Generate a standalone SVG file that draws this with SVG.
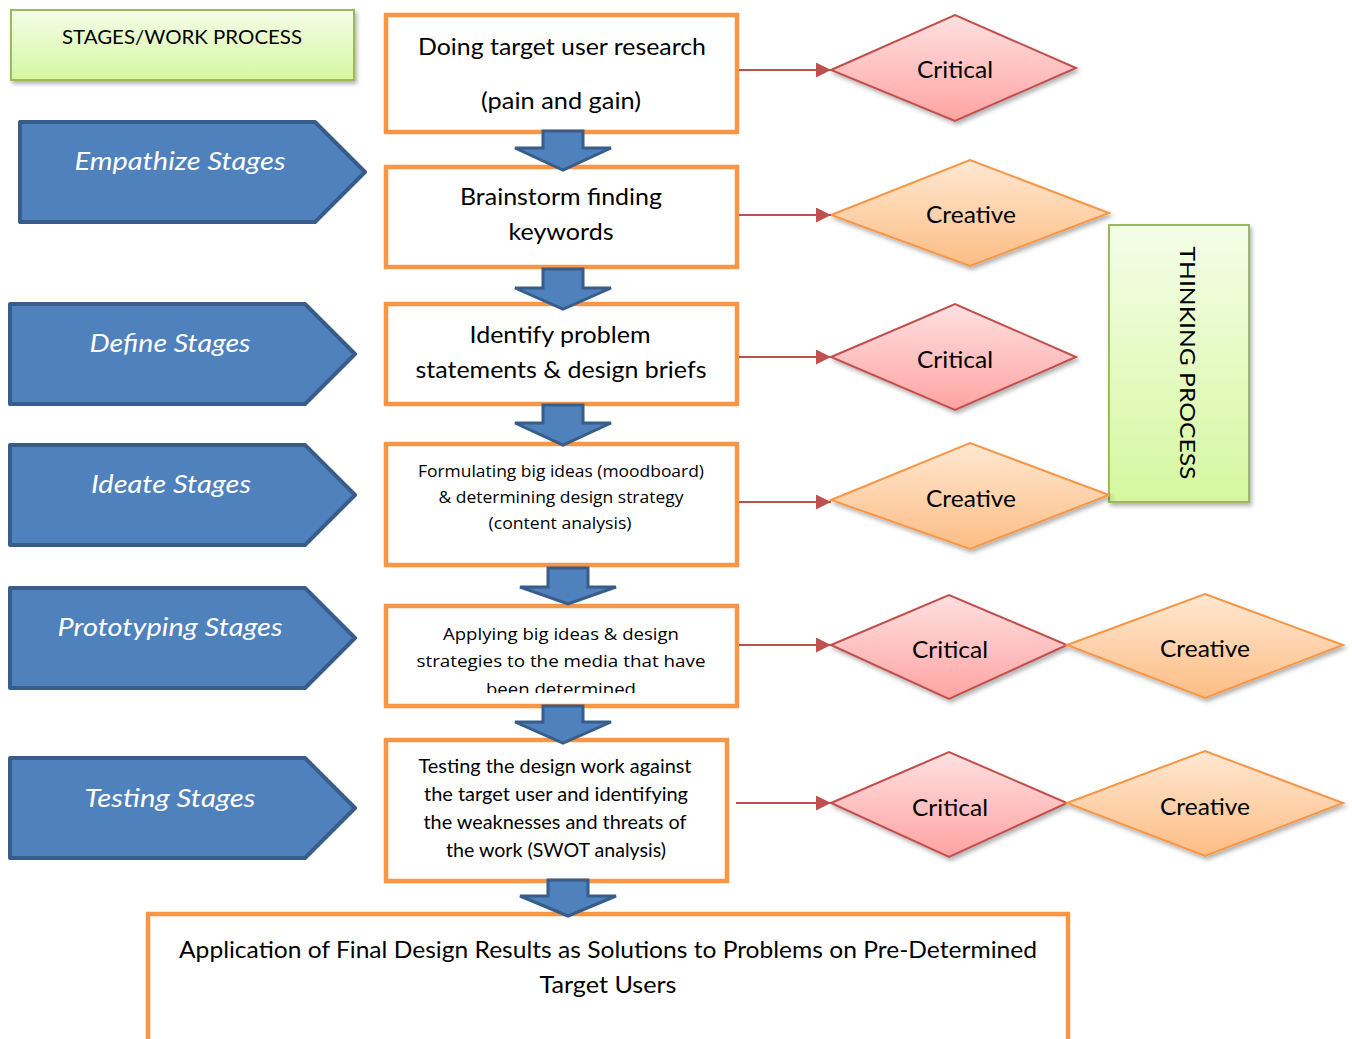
<svg xmlns="http://www.w3.org/2000/svg" width="1352" height="1039" viewBox="0 0 1352 1039">
<style>
  .bg{fill:#ffffff}
  .box{fill:#ffffff;stroke:#f79646;stroke-width:4.5}
  .green{fill:url(#gGreen);stroke:#9bbb59;stroke-width:2;filter:url(#sh)}
  .stage{fill:#4f81bd;stroke:#385d8a;stroke-width:4;stroke-linejoin:round}
  .down{fill:#4f81bd;stroke:#385d8a;stroke-width:3;stroke-linejoin:miter}
  .crit{fill:url(#gRed);stroke:#c0504d;stroke-width:2;filter:url(#sh)}
  .crea{fill:url(#gOrg);stroke:#f79646;stroke-width:2;filter:url(#sh)}
  .conn{stroke:#c0504d;stroke-width:2;fill:none;marker-end:url(#arr)}
  text{font-family:Lato,"Open Sans","Liberation Sans",sans-serif;fill:#000;text-anchor:middle}
  .st{font-style:italic;fill:#ffffff;font-size:26px}
  .t24{font-size:24px}
  .t19{font-size:19px}
  .os{font-family:"Open Sans","Liberation Sans",sans-serif;font-size:17px}
  .t20{font-size:20px}
  .t22{font-size:22px}
</style>
<defs>
  <linearGradient id="gGreen" x1="0" y1="0" x2="0" y2="1">
    <stop offset="0" stop-color="#f4fde8"/>
    <stop offset="1" stop-color="#d6f7a0"/>
  </linearGradient>
  <linearGradient id="gRed" x1="0" y1="0" x2="0" y2="1">
    <stop offset="0" stop-color="#ffe0e0"/>
    <stop offset="1" stop-color="#ffa3a3"/>
  </linearGradient>
  <linearGradient id="gOrg" x1="0" y1="0" x2="0" y2="1">
    <stop offset="0" stop-color="#ffe8d2"/>
    <stop offset="1" stop-color="#fdbd84"/>
  </linearGradient>
  <filter id="sh" x="-10%" y="-10%" width="125%" height="130%">
    <feDropShadow dx="2" dy="3" stdDeviation="2" flood-color="#000" flood-opacity="0.3"/>
  </filter>
  <marker id="arr" markerWidth="16" markerHeight="16" refX="15" refY="7.5" orient="auto" markerUnits="userSpaceOnUse">
    <path d="M0,0 L15,7.5 L0,15 Z" fill="#c0504d"/>
  </marker>
  <clipPath id="clip5"><rect x="388" y="608" width="347" height="85"/></clipPath>
</defs>
<rect class="bg" x="0" y="0" width="1352" height="1039"/>

<g id="header">
  <rect class="green" x="11" y="10" width="343" height="70"/>
  <text class="t20" x="182" y="44" textLength="240" lengthAdjust="spacingAndGlyphs">STAGES/WORK PROCESS</text>
</g>

<g id="stage-empathize">
  <polygon class="stage" points="20,122 315,122 365,172 315,222 20,222"/>
  <text class="st" x="180" y="170" textLength="211" lengthAdjust="spacingAndGlyphs">Empathize Stages</text>
</g>
<g id="stage-define">
  <polygon class="stage" points="10,304 305,304 355,354 305,404 10,404"/>
  <text class="st" x="170" y="352" textLength="161" lengthAdjust="spacingAndGlyphs">Define Stages</text>
</g>
<g id="stage-ideate">
  <polygon class="stage" points="10,445 305,445 355,495 305,545 10,545"/>
  <text class="st" x="171" y="493" textLength="160" lengthAdjust="spacingAndGlyphs">Ideate Stages</text>
</g>
<g id="stage-prototyping">
  <polygon class="stage" points="10,588 305,588 355,638 305,688 10,688"/>
  <text class="st" x="170" y="636" textLength="225" lengthAdjust="spacingAndGlyphs">Prototyping Stages</text>
</g>
<g id="stage-testing">
  <polygon class="stage" points="10,758 305,758 355,808 305,858 10,858"/>
  <text class="st" x="170" y="807" textLength="171" lengthAdjust="spacingAndGlyphs">Testing Stages</text>
</g>

<g id="box-research">
  <rect class="box" x="386" y="15" width="351" height="117"/>
  <text class="t24" x="562" y="55" textLength="288" lengthAdjust="spacingAndGlyphs">Doing target user research</text>
  <text class="t24" x="561" y="109" textLength="160" lengthAdjust="spacingAndGlyphs">(pain and gain)</text>
</g>
<g id="box-brainstorm">
  <rect class="box" x="386" y="167" width="351" height="100"/>
  <text class="t24" x="561" y="205" textLength="202" lengthAdjust="spacingAndGlyphs">Brainstorm finding</text>
  <text class="t24" x="561" y="240" textLength="105" lengthAdjust="spacingAndGlyphs">keywords</text>
</g>
<g id="box-identify">
  <rect class="box" x="386" y="304" width="351" height="100"/>
  <text class="t24" x="560" y="343" textLength="181" lengthAdjust="spacingAndGlyphs">Identify problem</text>
  <text class="t24" x="561" y="378" textLength="291" lengthAdjust="spacingAndGlyphs">statements &amp; design briefs</text>
</g>
<g id="box-formulating">
  <rect class="box" x="386" y="444" width="351" height="121"/>
  <text class="os" x="561" y="477" textLength="286" lengthAdjust="spacingAndGlyphs">Formulating big ideas (moodboard)</text>
  <text class="os" x="561" y="503" textLength="245" lengthAdjust="spacingAndGlyphs">&amp; determining design strategy</text>
  <text class="os" x="560" y="529" textLength="143" lengthAdjust="spacingAndGlyphs">(content analysis)</text>
</g>
<g id="box-applying">
  <rect class="box" x="386" y="606" width="351" height="100"/>
  <g clip-path="url(#clip5)">
    <text class="os" x="561" y="640" textLength="236" lengthAdjust="spacingAndGlyphs">Applying big ideas &amp; design</text>
    <text class="os" x="561" y="667" textLength="289" lengthAdjust="spacingAndGlyphs">strategies to the media that have</text>
    <text class="os" x="561" y="695" textLength="150" lengthAdjust="spacingAndGlyphs">been determined</text>
  </g>
</g>
<g id="box-testing">
  <rect class="box" x="386" y="740" width="341" height="141"/>
  <text class="t19" x="555" y="773" textLength="273" lengthAdjust="spacingAndGlyphs">Testing the design work against</text>
  <text class="t19" x="556" y="801" textLength="264" lengthAdjust="spacingAndGlyphs">the target user and identifying</text>
  <text class="t19" x="555" y="829" textLength="263" lengthAdjust="spacingAndGlyphs">the weaknesses and threats of</text>
  <text class="t19" x="556" y="857" textLength="220" lengthAdjust="spacingAndGlyphs">the work (SWOT analysis)</text>
</g>
<g id="box-application">
  <rect class="box" x="148" y="914" width="920" height="140"/>
  <text class="t24" x="608" y="958" textLength="858" lengthAdjust="spacingAndGlyphs">Application of Final Design Results as Solutions to Problems on Pre-Determined</text>
  <text class="t24" x="608" y="993" textLength="137" lengthAdjust="spacingAndGlyphs">Target Users</text>
</g>

<g id="thinking-process">
  <rect class="green" x="1109" y="225" width="140" height="277"/>
  <text class="t22" transform="translate(1188,363) rotate(90)" x="0" y="8" textLength="233" lengthAdjust="spacingAndGlyphs">THINKING PROCESS</text>
</g>

<g id="d-critical-1">
  <polygon class="crit" points="831,70 955,15 1076,68 955,121"/>
  <text class="t24" x="955" y="78" textLength="76" lengthAdjust="spacingAndGlyphs">Critical</text>
</g>
<g id="d-creative-1">
  <polygon class="crea" points="831,215 970,160 1109,213 970,266"/>
  <text class="t24" x="971" y="223" textLength="90" lengthAdjust="spacingAndGlyphs">Creative</text>
</g>
<g id="d-critical-2">
  <polygon class="crit" points="831,357 955,304 1076,357 955,410"/>
  <text class="t24" x="955" y="368" textLength="76" lengthAdjust="spacingAndGlyphs">Critical</text>
</g>
<g id="d-creative-2">
  <polygon class="crea" points="831,500 970,443 1109,495 970,549"/>
  <text class="t24" x="971" y="507" textLength="90" lengthAdjust="spacingAndGlyphs">Creative</text>
</g>
<g id="d-critical-3">
  <polygon class="crit" points="831,645 949,595 1067,645 949,699"/>
  <text class="t24" x="950" y="658" textLength="76" lengthAdjust="spacingAndGlyphs">Critical</text>
</g>
<g id="d-creative-3">
  <polygon class="crea" points="1067,645 1205,594 1343,645 1205,698"/>
  <text class="t24" x="1205" y="657" textLength="90" lengthAdjust="spacingAndGlyphs">Creative</text>
</g>
<g id="d-critical-4">
  <polygon class="crit" points="831,803 949,752 1067,803 949,857"/>
  <text class="t24" x="950" y="816" textLength="76" lengthAdjust="spacingAndGlyphs">Critical</text>
</g>
<g id="d-creative-4">
  <polygon class="crea" points="1067,803 1205,751 1343,803 1205,856"/>
  <text class="t24" x="1205" y="815" textLength="90" lengthAdjust="spacingAndGlyphs">Creative</text>
</g>

<g id="connectors">
  <polygon class="down" points="543,131 583,131 583,148 611,148 563,170 515,148 543,148"/>
  <polygon class="down" points="543,269 583,269 583,288 611,288 563,309 515,288 543,288"/>
  <polygon class="down" points="543,405 583,405 583,423 611,423 563,445 515,423 543,423"/>
  <polygon class="down" points="548,568 588,568 588,587 616,587 568,604 520,587 548,587"/>
  <polygon class="down" points="543,706 583,706 583,722 611,722 563,743 515,722 543,722"/>
  <polygon class="down" points="548,880 588,880 588,896 616,896 568,916 520,896 548,896"/>
  <line class="conn" x1="739" y1="70" x2="831" y2="70"/>
  <line class="conn" x1="739" y1="215" x2="831" y2="215"/>
  <line class="conn" x1="739" y1="357" x2="831" y2="357"/>
  <line class="conn" x1="739" y1="502" x2="831" y2="502"/>
  <line class="conn" x1="739" y1="645" x2="831" y2="645"/>
  <line class="conn" x1="736" y1="803" x2="831" y2="803"/>
</g>
</svg>
